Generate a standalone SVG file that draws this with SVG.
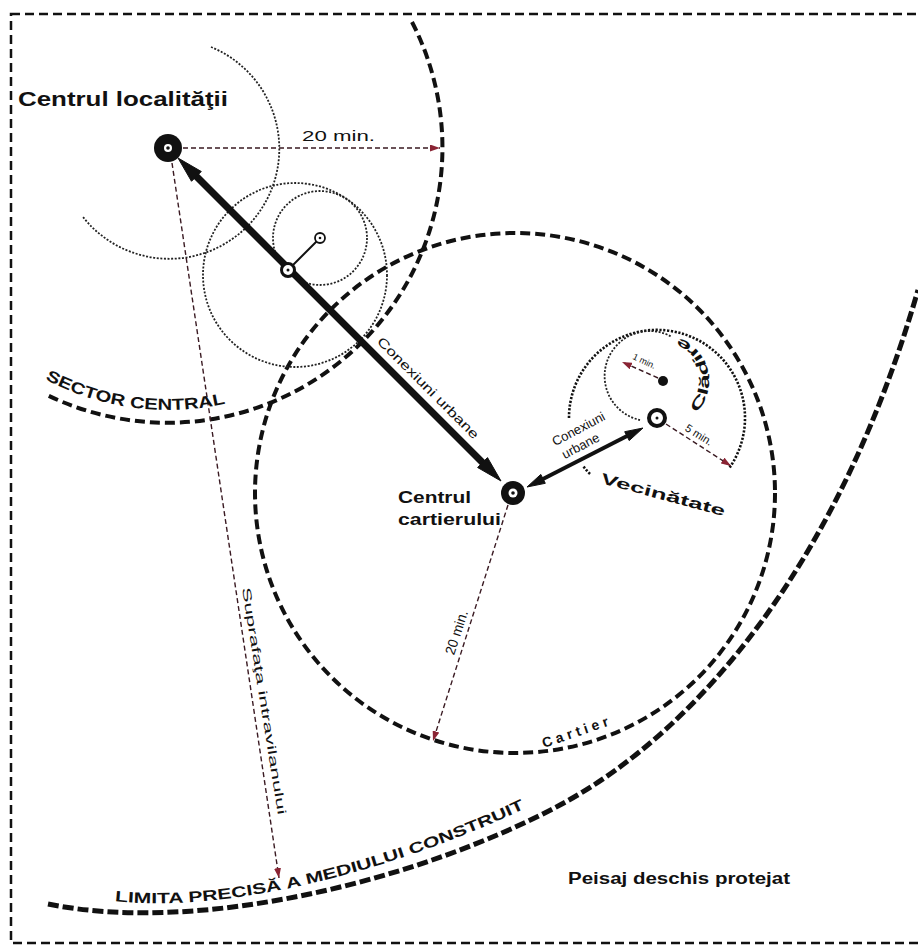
<svg xmlns="http://www.w3.org/2000/svg" width="918" height="950" viewBox="0 0 918 950">
<style>
text{font-family:"Liberation Sans",Arial,sans-serif;fill:#111}
.b{font-weight:bold}
.frame{fill:none;stroke:#111;stroke-width:2.5;stroke-dasharray:9 5}
.big{fill:none;stroke:#111;stroke-width:4;stroke-dasharray:10 5}
.lim{fill:none;stroke:#111;stroke-width:5;stroke-dasharray:11 4}
.dot{fill:none;stroke:#222;stroke-width:1.8;stroke-dasharray:2 1.6}
.dotb{fill:none;stroke:#111;stroke-width:2.6;stroke-dasharray:2.2 1.6}
.thin{fill:none;stroke:#3a1a22;stroke-width:1.4;stroke-dasharray:5 3}
.arr{fill:#111;stroke:#111}
</style>
<defs>
<marker id="ra" viewBox="0 0 10 7" refX="10" refY="3.5" markerWidth="10" markerHeight="7" markerUnits="userSpaceOnUse" orient="auto"><path d="M0,0 L10,3.5 L0,7 z" fill="#8a2434"/></marker>
<path id="secp" d="M45,379.3 A262,262 0 0 0 257.6,394.2"/>
<path id="limp" d="M105,900 C 220,916 400,872 548,797"/>
<path id="cldp" d="M693.8,415.2 A46,46 0 0 0 672.6,336"/>
</defs>
<rect class="frame" x="11" y="14" width="920" height="929"/>

<g id="connectors">
<path class="big" d="M412,22 A275,275 0 0 1 45,394"/>
<circle class="big" cx="515" cy="493" r="260"/>
<path class="lim" d="M48,904 C 200,935 420,880 560,805 C 700,730 840,560 918,290"/>
<path class="dot" d="M211,47 A110,110 0 1 1 83,217"/>
<circle class="dot" cx="295" cy="275" r="92"/>
<circle class="dot" cx="320" cy="238" r="47"/>
<line x1="288" y1="270" x2="320" y2="238" stroke="#111" stroke-width="2"/>
<path class="dotb" d="M569,418 A88,88 0 1 1 729,468.5"/>
<path class="dotb" d="M590,474 A88,88 0 0 1 583,466"/>
<path class="dot" d="M640,420 A45,45 0 1 1 672,337"/>
<line class="thin" x1="183" y1="148" x2="440" y2="148" marker-end="url(#ra)"/>
<line class="thin" x1="172" y1="163" x2="279" y2="878" marker-end="url(#ra)"/>
<line class="thin" x1="508" y1="505" x2="433" y2="741" marker-end="url(#ra)"/>
<line class="thin" x1="666" y1="424" x2="731" y2="466" marker-end="url(#ra)"/>
<line class="thin" x1="658" y1="378" x2="622" y2="362" marker-end="url(#ra)"/>
<line x1="194" y1="174" x2="486" y2="466" stroke="#111" stroke-width="7"/>
<polygon class="arr" points="178,158 201.3,171.5 191.5,181.3"/>
<polygon class="arr" points="501,481 487.5,457.6 477.6,467.5"/>
<line x1="541" y1="480" x2="629" y2="435" stroke="#111" stroke-width="4"/>
<polygon class="arr" points="643,428 629.2,440.6 624.7,431.7"/>
<polygon class="arr" points="527,487 545.3,483.3 540.8,474.4"/>
</g>

<g id="centrul-localitatii">
<circle cx="168" cy="148" r="14" fill="#111"/>
<circle cx="168" cy="148" r="4" fill="#fff"/>
<circle cx="168" cy="148" r="1.8" fill="#111"/>
<text class="b" x="18" y="106" font-size="20" textLength="210" lengthAdjust="spacingAndGlyphs">Centrul localităţii</text>
</g>
<g id="label-20min-top"><text x="302" y="141" font-size="15" textLength="73" lengthAdjust="spacingAndGlyphs">20 min.</text></g>

<g id="nod-secundar">
<circle cx="288" cy="270" r="6.5" fill="#fff" stroke="#111" stroke-width="3"/>
<circle cx="288" cy="270" r="1.5" fill="#111"/>
<circle cx="320" cy="238" r="5" fill="#fff" stroke="#111" stroke-width="1.8"/>
<circle cx="320" cy="238" r="1.3" fill="#111"/>
</g>

<g id="sector-central">
<text class="b" font-size="16"><textPath href="#secp" textLength="186" lengthAdjust="spacingAndGlyphs">SECTOR CENTRAL</textPath></text>
</g>

<g id="conexiuni-main">
<text transform="translate(420,396) rotate(45)" x="0" y="-7" font-size="13" text-anchor="middle" textLength="138" lengthAdjust="spacingAndGlyphs">Conexiuni urbane</text>
</g>

<g id="centrul-cartierului">
<circle cx="513" cy="493" r="12" fill="#111"/>
<circle cx="513" cy="493" r="4.5" fill="#fff"/>
<circle cx="513" cy="493" r="1.8" fill="#111"/>
<text class="b" x="398" y="503" font-size="17" textLength="73" lengthAdjust="spacingAndGlyphs">Centrul</text>
<text class="b" x="398" y="525" font-size="17" textLength="103" lengthAdjust="spacingAndGlyphs">cartierului</text>
</g>

<g id="conexiuni-vecinatate">
<g transform="translate(590,455) rotate(-27.8)">
<text x="2" y="-24" font-size="13" text-anchor="middle">Conexiuni</text>
<text x="-4" y="-8" font-size="13" text-anchor="middle">urbane</text>
</g>
</g>

<g id="vecinatate">
<circle cx="657" cy="418" r="8" fill="#fff" stroke="#111" stroke-width="4"/>
<circle cx="657" cy="418" r="1.5" fill="#111"/>
<circle cx="663" cy="381" r="5" fill="#111"/>
<text class="b" transform="translate(600,483) rotate(15)" font-size="15" textLength="128" lengthAdjust="spacingAndGlyphs">Vecinătate</text>
<text transform="translate(697,438) rotate(32.5)" font-size="11" text-anchor="middle">5 min.</text>
<text transform="translate(643,364) rotate(25)" font-size="9" text-anchor="middle">1 min.</text>
<text class="b" font-size="14"><textPath href="#cldp" startOffset="4" textLength="90" lengthAdjust="spacingAndGlyphs">Clădire</textPath></text>
</g>

<g id="cartier">
<text class="b" transform="translate(544,748) rotate(-19)" font-size="14" letter-spacing="4">Cartier</text>
<text transform="translate(461,634) rotate(-72)" font-size="14" text-anchor="middle">20 min.</text>
</g>

<g id="suprafata">
<text transform="translate(242,588) rotate(81)" font-size="12" textLength="230" lengthAdjust="spacingAndGlyphs">Suprafaţa intravilanului</text>
</g>

<g id="limita">
<text class="b" font-size="15"><textPath href="#limp" startOffset="10" textLength="425" lengthAdjust="spacingAndGlyphs">LIMITA PRECISĂ A MEDIULUI CONSTRUIT</textPath></text>
</g>

<g id="peisaj">
<text class="b" x="568" y="884" font-size="16" textLength="222" lengthAdjust="spacingAndGlyphs">Peisaj deschis protejat</text>
</g>
</svg>
